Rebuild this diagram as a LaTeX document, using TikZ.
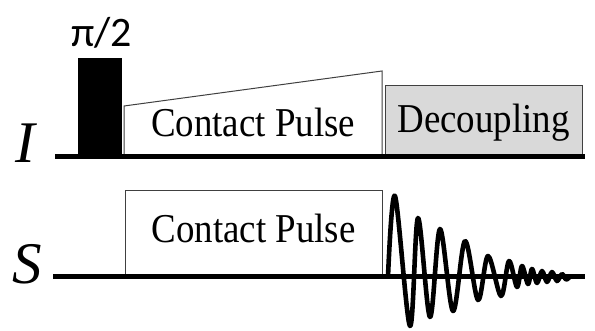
\documentclass[tikz,border=0pt]{standalone}
\usepackage{fontspec}
\setmainfont{Liberation Serif}
\newfontfamily\carlitofnt{Carlito}
\begin{document}
\begin{tikzpicture}[x=1pt,y=-1pt,
  axisline/.style={line width=5pt,line cap=butt},
  pulseline/.style={draw=black!75,line width=1pt},
  boxtext/.style={anchor=base,inner sep=0pt,xscale=0.9,transform shape,font=\rmfamily\fontsize{41}{45}\selectfont},
  chanlabel/.style={anchor=base,inner sep=0pt,font=\rmfamily\fontsize{59}{64}\selectfont\itshape},
  fid/.style={line width=4.6pt,line join=round,line cap=round}]
\useasboundingbox (0,0) rectangle (595,331);
% coordinates
\coordinate (Ia) at (55,157);
\coordinate (Ib) at (585,157);
\coordinate (Sa) at (53,276.5);
\coordinate (Sb) at (585,276.5);
% I channel pulses
\fill[black] (78,58) rectangle (122,157);
\filldraw[pulseline,fill=white] (124,157) -- (124,106) -- (382,71) -- (382,157);
\filldraw[pulseline,fill=black!15] (385,157) rectangle (582,86);
% S channel pulse
\filldraw[pulseline,fill=white] (125,276.5) -- (125,191) -- (382,191) -- (382,276.5);
% baselines
\draw[axisline] (Ia) -- (Ib);
\draw[axisline] (Sa) -- (Sb);
% FID
\draw[fid] plot[smooth,tension=0.55] coordinates {
 (388,276.5) (395,196) (410,326) (418,218) (430,317) (440,229) (453,311)
 (465,241) (478,300) (488,256) (501,296) (509,261) (517,287) (522,266)
 (528,284) (532,269) (537,283) (542,271) (547,282) (552,272) (557,281)
 (562,274) (566,279.5) (570,276.5)};
% texts
\node[anchor=base,inner sep=0pt,font=\carlitofnt\fontsize{42}{46}\selectfont] (pi) at (101.5,47) {π/2};
\node[boxtext] (cpI) at (253,137) {Contact Pulse};
\node[boxtext] (dec) at (483.5,133) {Decoupling};
\node[boxtext] (cpS) at (253.5,243) {Contact Pulse};
\node[chanlabel] (lI) at (25,163) {I};
\node[chanlabel] (lS) at (27,284) {S};
\end{tikzpicture}
\end{document}
